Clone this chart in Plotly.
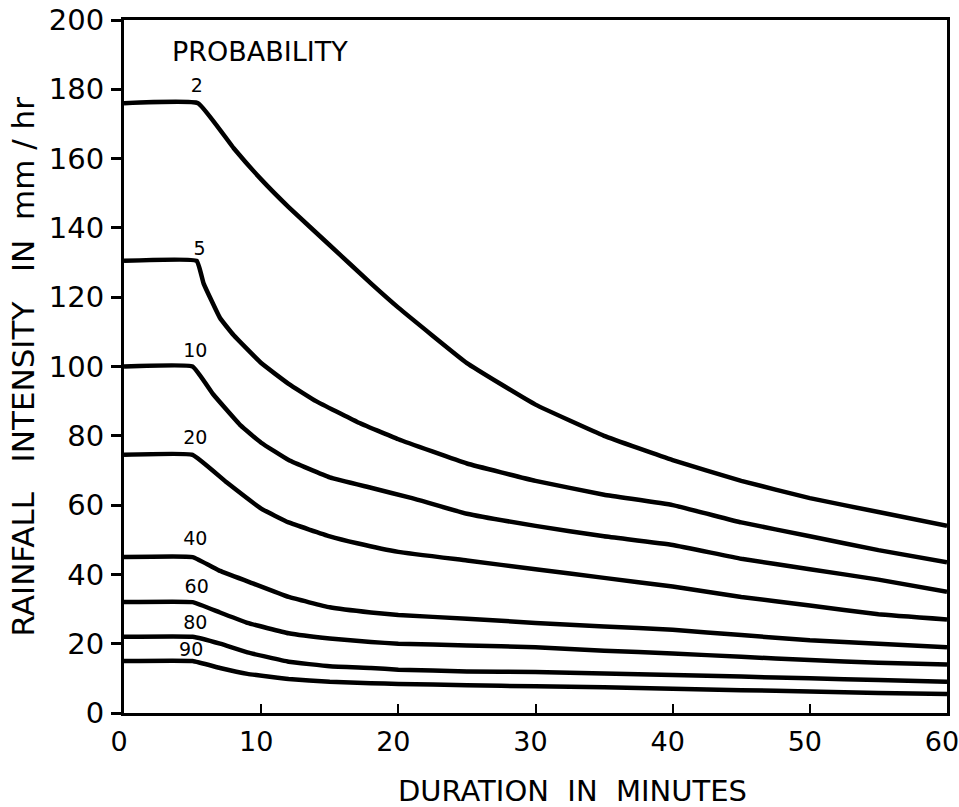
import plotly.graph_objects as go

# Duration (minutes) and rainfall intensity (mm/hr) for each probability curve
x_p2 = [0, 5.4, 8, 10, 12, 15, 18, 20, 25, 30, 35, 40, 45, 50, 55, 60]
y_p2 = [176, 176, 163, 154, 146, 135, 124, 117, 101, 89, 80, 73, 67, 62, 58, 54]

x_p5 = [0, 5.3, 5.8, 7, 8, 10, 12, 14, 17, 20, 25, 30, 35, 40, 45, 50, 55, 60]
y_p5 = [130.5, 130.5, 124, 114, 109, 101, 95, 90, 84, 79, 72, 67, 63, 60, 55, 51, 47, 43.5]

x_p10 = [0, 5, 6.5, 8.5, 10, 12, 15, 18, 21, 25, 30, 35, 40, 45, 50, 55, 60]
y_p10 = [100, 100, 92, 83, 78, 73, 68, 65, 62, 57.5, 54, 51, 48.5, 44.5, 41.5, 38.5, 35]

x_p20 = [0, 5, 7.5, 10, 12, 15, 17, 20, 25, 30, 35, 40, 45, 50, 55, 60]
y_p20 = [74.5, 74.5, 66.5, 59, 55, 51, 49, 46.5, 44, 41.5, 39, 36.5, 33.5, 31, 28.5, 27]

x_p40 = [0, 5, 7, 9, 12, 15, 18, 20, 25, 30, 35, 40, 45, 50, 55, 60]
y_p40 = [45, 45, 41, 38, 33.5, 30.5, 29, 28.3, 27.2, 26, 25, 24, 22.5, 21, 20, 19]

x_p60 = [0, 5, 7, 9, 12, 15, 18, 20, 25, 30, 35, 40, 45, 50, 55, 60]
y_p60 = [32, 32, 29, 26, 23, 21.5, 20.5, 20, 19.5, 19, 18, 17.2, 16.2, 15.3, 14.5, 14]

x_p80 = [0, 5, 7, 9, 12, 15, 18, 20, 25, 30, 35, 40, 45, 50, 55, 60]
y_p80 = [22, 22, 20, 17.5, 14.8, 13.5, 13, 12.5, 12, 11.8, 11.4, 11, 10.5, 10, 9.5, 9]

x_p90 = [0, 5, 7, 9, 12, 15, 18, 20, 25, 30, 35, 40, 45, 50, 55, 60]
y_p90 = [15, 15, 13, 11.3, 9.8, 9, 8.6, 8.4, 8, 7.7, 7.4, 7, 6.6, 6.2, 5.8, 5.5]

curve_labels = ["2", "5", "10", "20", "40", "60", "80", "90"]
label_x = [5.3, 5.5, 5.2, 5.2, 5.2, 5.3, 5.2, 4.9]
label_y = [180.5, 133.5, 104, 79, 49.8, 36, 25.6, 17.8]

x_ticks = [0, 10, 20, 30, 40, 50, 60]
x_tick_labels = ["0", "10", "20", "30", "40", "50", "60"]
y_ticks = [0, 20, 40, 60, 80, 100, 120, 140, 160, 180, 200]

series = [(x_p2, y_p2), (x_p5, y_p5), (x_p10, y_p10), (x_p20, y_p20),
          (x_p40, y_p40), (x_p60, y_p60), (x_p80, y_p80), (x_p90, y_p90)]

FONT = "DejaVu Sans"

fig = go.Figure()
for (xs, ys), name in zip(series, curve_labels):
    fig.add_trace(go.Scatter(
        x=xs, y=ys, mode="lines", name=name,
        line=dict(color="black", width=4.5, shape="spline", smoothing=0.3),
        showlegend=False, hoverinfo="skip"))

fig.add_trace(go.Scatter(
    x=label_x, y=label_y, mode="text", text=curve_labels,
    textposition="middle center",
    textfont=dict(family=FONT, size=19, color="black"),
    showlegend=False, hoverinfo="skip"))

fig.add_annotation(x=9.9, y=191, xref="x", yref="y", text="PROBABILITY",
                   showarrow=False, font=dict(family=FONT, size=27, color="black"),
                   xanchor="center", yanchor="middle")

fig.add_annotation(x=(572 - 124) / 823, y=0, xref="paper", yref="paper",
                   text="DURATION\u00a0\u00a0IN\u00a0\u00a0MINUTES",
                   showarrow=False, font=dict(family=FONT, size=29, color="black"),
                   xanchor="center", yanchor="middle", yshift=-78)

fig.add_annotation(x=0, y=0.5, xref="paper", yref="paper",
                   text="RAINFALL\u00a0\u00a0\u00a0INTENSITY\u00a0\u00a0\u00a0IN\u00a0\u00a0mm\u00a0/\u00a0hr",
                   textangle=-90, showarrow=False,
                   font=dict(family=FONT, size=31, color="black"),
                   xanchor="center", yanchor="middle", xshift=-102)

fig.update_xaxes(range=[0, 60], tickvals=x_ticks, ticktext=x_tick_labels,
                 showgrid=False, zeroline=False, showline=True, linecolor="black",
                 linewidth=3, mirror=True, ticks="inside", ticklen=9, tickwidth=2,
                 tickcolor="black", ticklabelstandoff=3, ticklabelshift=-5,
                 ticklabeloverflow="allow", automargin=False,
                 tickfont=dict(family=FONT, size=27, color="black"))
fig.update_yaxes(range=[0, 200], tickvals=y_ticks, ticktext=[str(v) for v in y_ticks],
                 showgrid=False, zeroline=False, showline=True, linecolor="black",
                 linewidth=3, mirror=True, ticks="outside", ticklen=10, tickwidth=2.5,
                 tickcolor="black", ticklabelstandoff=1, ticklabeloverflow="allow",
                 automargin=False,
                 tickfont=dict(family=FONT, size=29, color="black"))

fig.update_layout(width=959, height=807,
                  margin=dict(l=124, r=12, t=20, b=94, autoexpand=False),
                  paper_bgcolor="white", plot_bgcolor="white")

fig.write_html("out.html")
